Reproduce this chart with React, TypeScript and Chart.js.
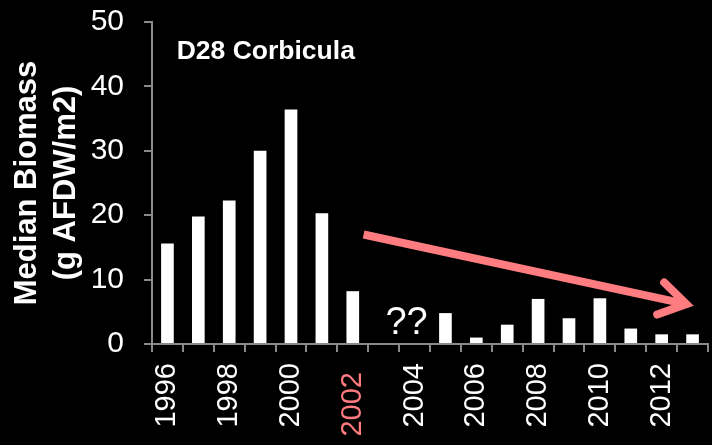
import React, { useEffect, useRef } from 'react';
import { Chart, registerables } from 'chart.js';

Chart.register(...registerables);

// ---- data ----
const years = ['1996', '1997', '1998', '1999', '2000', '2001', '2002', '2003', '2004', '2005', '2006', '2007', '2008', '2009', '2010', '2011', '2012', '2013'];
const medianBiomass: (number | null)[] = [15.6, 19.8, 22.3, 30.0, 36.4, 20.3, 8.2, null, null, 4.8, 1.0, 3.0, 7.0, 4.0, 7.1, 2.4, 1.5, 1.5];
const yTickValues = [0, 10, 20, 30, 40, 50];
const labelledYears = ['1996', '1998', '2000', '2002', '2004', '2006', '2008', '2010', '2012'];
const highlightedYear = '2002';
const chartTitle = 'D28 Corbicula';
const yAxisTitle = ['Median Biomass', '(g AFDW/m2)'];
const gapNote = '??';

// ---- styles ----
const FONT = '"Liberation Sans", Arial, Helvetica, sans-serif';
const WHITE = '#ffffff';
const PINK = '#ff7c80';
const AXIS = '#8a8a8a';
const TICK_LEN = 8;
const X_PAD = 11;
const X_FONT = 29;

const overlay = {
  id: 'overlay',
  beforeDraw(chart: any) {
    const { ctx, width, height } = chart;
    ctx.save();
    ctx.fillStyle = '#000000';
    ctx.fillRect(0, 0, width, height);
    ctx.restore();
  },
  afterDraw(chart: any) {
    const ctx = chart.ctx;
    const xs = chart.scales.x;
    const ys = chart.scales.y;

    ctx.save();
    ctx.fillStyle = WHITE;
    ctx.font = `bold 26.5px ${FONT}`;
    ctx.textAlign = 'left';
    ctx.textBaseline = 'alphabetic';
    ctx.fillText(chartTitle, xs.getPixelForValue(0.3), ys.getPixelForValue(44.3));

    ctx.font = `38px ${FONT}`;
    ctx.textAlign = 'center';
    ctx.fillText(gapNote, xs.getPixelForValue(7.74), ys.getPixelForValue(1.5));
    ctx.restore();

    ctx.save();
    const i = years.indexOf(highlightedYear);
    ctx.translate(xs.getPixelForValue(i), xs.top + TICK_LEN + X_PAD + 9);
    ctx.rotate(-Math.PI / 2);
    ctx.font = `${X_FONT}px ${FONT}`;
    ctx.fillStyle = PINK;
    ctx.textAlign = 'right';
    ctx.textBaseline = 'middle';
    ctx.fillText(highlightedYear, 0, 0);
    ctx.restore();

    ctx.save();
    const sx = xs.getPixelForValue(6.35);
    const sy = ys.getPixelForValue(17.0);
    const tx = xs.getPixelForValue(16.8);
    const ty = ys.getPixelForValue(6.2);
    const ang = Math.atan2(ty - sy, tx - sx);
    ctx.strokeStyle = PINK;
    ctx.lineWidth = 8;
    ctx.lineCap = 'butt';
    ctx.beginPath();
    ctx.moveTo(sx, sy);
    ctx.lineTo(tx, ty);
    ctx.stroke();
    const L = 31;
    const spread = (32 * Math.PI) / 180;
    ctx.lineCap = 'round';
    ctx.lineJoin = 'miter';
    ctx.beginPath();
    ctx.moveTo(tx - L * Math.cos(ang - spread), ty - L * Math.sin(ang - spread));
    ctx.lineTo(tx, ty);
    ctx.lineTo(tx - L * Math.cos(ang + spread), ty - L * Math.sin(ang + spread));
    ctx.stroke();
    ctx.restore();
  },
};

export default function App() {
  const ref = useRef<HTMLCanvasElement | null>(null);

  useEffect(() => {
    document.body.style.margin = '0';
    document.body.style.background = '#000';
    const canvas = ref.current;
    if (!canvas) return;
    const chart = new Chart(canvas, {
      type: 'bar',
      data: {
        labels: years,
        datasets: [
          {
            data: medianBiomass,
            backgroundColor: WHITE,
            borderWidth: 0,
            barPercentage: 0.41,
            categoryPercentage: 1,
          },
        ],
      },
      options: {
        animation: false,
        responsive: false,
        devicePixelRatio: 1,
        layout: { padding: { top: 22, right: 4, left: 0, bottom: 0 } },
        plugins: {
          legend: { display: false },
          tooltip: { enabled: false },
          title: { display: false },
        },
        scales: {
          x: {
            grid: {
              display: true,
              drawOnChartArea: false,
              drawTicks: true,
              tickLength: TICK_LEN,
              color: AXIS,
              lineWidth: 2,
              offset: true,
            },
            border: { display: true, color: AXIS, width: 2 },
            ticks: {
              autoSkip: false,
              maxRotation: 90,
              minRotation: 90,
              padding: X_PAD,
              font: { family: FONT, size: X_FONT },
              color: (c: any) => (years[c.index] === highlightedYear ? 'rgba(0,0,0,0)' : WHITE),
              callback: (_v: any, idx: number) => (labelledYears.includes(years[idx]) ? years[idx] : ''),
            },
            afterFit: (s: any) => {
              s.height = 101;
              s.paddingLeft = 0;
              s.paddingRight = 0;
              s.paddingTop = 0;
              s.paddingBottom = 0;
            },
          },
          y: {
            min: 0,
            max: 50,
            afterBuildTicks: (s: any) => {
              s.ticks = yTickValues.map((v) => ({ value: v }));
            },
            grid: {
              drawOnChartArea: false,
              drawTicks: true,
              tickLength: TICK_LEN,
              color: AXIS,
              lineWidth: 2,
            },
            border: { display: true, color: AXIS, width: 2 },
            ticks: {
              padding: 20,
              font: { family: FONT, size: 30 },
              color: WHITE,
            },
            title: {
              display: true,
              text: yAxisTitle,
              color: WHITE,
              font: { family: FONT, size: 31, weight: 'bold', lineHeight: 1.25 },
              padding: { top: 8, bottom: 0 },
            },
            afterFit: (s: any) => {
              s.width = 152;
              s.paddingLeft = 0;
              s.paddingRight = 0;
              s.paddingTop = 0;
              s.paddingBottom = 0;
            },
          },
        },
      },
      plugins: [overlay],
    });
    return () => chart.destroy();
  }, []);

  return <canvas ref={ref} width={712} height={445} style={{ display: 'block' }} />;
}
